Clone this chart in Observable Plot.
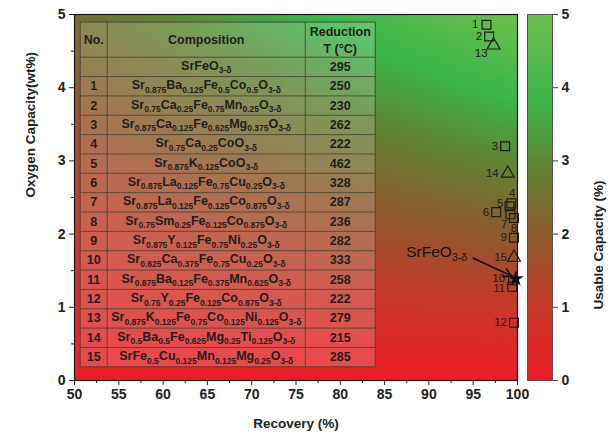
<!DOCTYPE html>
<html><head><meta charset="utf-8">
<script src="https://cdn.jsdelivr.net/npm/d3@7"></script>
<script src="https://cdn.jsdelivr.net/npm/@observablehq/plot@0.6"></script>
<style>
body{margin:0;background:#fff;font-family:"Liberation Sans",Arial,sans-serif;}
#wrap{position:relative;width:615px;height:438px;overflow:hidden;}
#main{position:absolute;left:0;top:0;}
#bar{position:absolute;left:520px;top:0;}
</style></head><body><div id="wrap"><div id="main"></div><div id="bar"></div></div>
<script>
// ---------- data ----------
const pointLabels = ["SrFeO3-δ","1","2","3","4","5","6","7","8","9","10","11","12","13","14","15"];
const recovery =       [99.8, 96.5, 96.8, 98.6, 99.3, 99.1, 97.6, 99.2, 99.6, 99.6, 99.5, 99.4, 99.6, 97.3, 98.9, 99.6];
const oxygenCapacity = [1.39, 4.86, 4.70, 3.20, 2.42, 2.38, 2.30, 2.27, 2.22, 1.95, 1.37, 1.28, 0.79, 4.58, 2.83, 1.68];
const markerKind = ["ref","square","square","square","square","square","square","square","square","square","square","square","square","triangle","triangle","triangle"];

const tableNo = ["","1","2","3","4","5","6","7","8","9","10","11","12","13","14","15"];
const tableComposition = [
  "SrFeO_{3-δ}",
  "Sr_{0.875}Ba_{0.125}Fe_{0.5}Co_{0.5}O_{3-δ}",
  "Sr_{0.75}Ca_{0.25}Fe_{0.75}Mn_{0.25}O_{3-δ}",
  "Sr_{0.875}Ca_{0.125}Fe_{0.625}Mg_{0.375}O_{3-δ}",
  "Sr_{0.75}Ca_{0.25}CoO_{3-δ}",
  "Sr_{0.875}K_{0.125}CoO_{3-δ}",
  "Sr_{0.875}La_{0.125}Fe_{0.75}Cu_{0.25}O_{3-δ}",
  "Sr_{0.875}La_{0.125}Fe_{0.125}Co_{0.875}O_{3-δ}",
  "Sr_{0.75}Sm_{0.25}Fe_{0.125}Co_{0.875}O_{3-δ}",
  "Sr_{0.875}Y_{0.125}Fe_{0.75}Ni_{0.25}O_{3-δ}",
  "Sr_{0.625}Ca_{0.375}Fe_{0.75}Cu_{0.25}O_{3-δ}",
  "Sr_{0.875}Ba_{0.125}Fe_{0.375}Mn_{0.625}O_{3-δ}",
  "Sr_{0.75}Y_{0.25}Fe_{0.125}Co_{0.875}O_{3-δ}",
  "Sr_{0.875}K_{0.125}Fe_{0.75}Co_{0.125}Ni_{0.125}O_{3-δ}",
  "Sr_{0.5}Ba_{0.5}Fe_{0.625}Mg_{0.25}Ti_{0.125}O_{3-δ}",
  "SrFe_{0.5}Cu_{0.125}Mn_{0.125}Mg_{0.25}O_{3-δ}"
];
const tableReductionT = [295,250,230,262,222,462,328,287,236,282,333,258,222,279,215,285];
const tableHeaders = ["No.","Composition","Reduction","T (°C)"];

const xTicks = [50,55,60,65,70,75,80,85,90,95,100];
const xMinorTicks = [52.5,57.5,62.5,67.5,72.5,77.5,82.5,87.5,92.5,97.5];
const yTicks = [0,1,2,3,4,5];
const yMinorTicks = [0.5,1.5,2.5,3.5,4.5];
const capacityTicks = [0,1,2,3,4,5];

// ---------- style / layout ----------
const FONT = "Liberation Sans, Arial, sans-serif";
const colorOpts = {type:"linear", domain:[0,1,2,3,3.8,5],
  range:["#ee1c25","#c8392b","#8c5b2c","#5d8736","#3bb54a","#6dc04b"], interpolate:"rgb"};
const labelPlace = { // dx, dy, anchor
  default:[-7,0,"end"], "1":[-8,0,"end"], "13":[-6,8,"end"], "14":[-9,0,"end"],
  "4":[1,-10,"middle"], "5":[-6,-3,"end"], "7":[-3,10,"end"], "8":[0,10,"middle"],
  "10":[-8,-2,"end"], "11":[-7,2,"end"]
};
// table frame in data units (recovery, wt%)
const tbl = {x:[50.7,53.75,76.1,84.0], yTop:4.89, yHead:4.41, yBottom:0.18};
const annot = {textX:87.5, textY:1.68, ax1:95.0, ay1:1.67, ax2:99.3, ay2:1.43};

const pts = pointLabels.map((l,i)=>({label:l, r:recovery[i], c:oxygenCapacity[i], kind:markerKind[i]}));
const numbered = pts.filter(d=>d.kind!=="ref");
const groups = d3.groups(numbered, d=> labelPlace[d.label] ? d.label : "default");

const labelMarks = groups.map(([k,arr])=>{
  const [dx,dy,anchor] = labelPlace[k];
  return Plot.text(arr,{x:"r",y:"c",text:"label",dx,dy,textAnchor:anchor,fontSize:11.5,fill:"#1a1a1a"});
});

const main = Plot.plot({
  width:525, height:438, marginLeft:74, marginRight:8, marginTop:14, marginBottom:58,
  style:{fontFamily:FONT, overflow:"visible", background:"transparent"},
  x:{domain:[50,100]},
  y:{domain:[0,5]},
  color:colorOpts,
  marks:[
    Plot.raster({fill:(x,y)=>x*y/100, x1:50, x2:100, y1:0, y2:5, pixelSize:1}),
    Plot.axisX({ticks:xTicks, tickFormat:"d", tickSize:5, tickPadding:4, fontSize:14, fontWeight:"bold", label:null, stroke:"#222", fill:"#222"}),
    Plot.axisX({ticks:xMinorTicks, tickSize:3, tickFormat:()=>"", label:null, stroke:"#222"}),
    Plot.axisY({ticks:yTicks, tickFormat:"d", tickSize:5, tickPadding:4, fontSize:14, fontWeight:"bold", label:null, stroke:"#222", fill:"#222"}),
    Plot.axisY({ticks:yMinorTicks, tickSize:3, tickFormat:()=>"", label:null, stroke:"#222"}),
    Plot.frame({stroke:"#1a1a1a", strokeWidth:1.2}),
    Plot.text(["Oxygen Capacity(wt%)"],{frameAnchor:"left", rotate:-90, dx:-44, fontSize:13.5, fontWeight:"bold", fill:"#222"}),
    Plot.text(["Recovery (%)"],{frameAnchor:"bottom", dy:47, fontSize:13.5, fontWeight:"bold", fill:"#222"}),
    Plot.dot(pts.filter(d=>d.kind==="square"),{x:"r",y:"c",symbol:"square",r:5,stroke:"#1a1a1a",strokeWidth:1.2,fill:"none"}),
    Plot.dot(pts.filter(d=>d.kind==="triangle"),{x:"r",y:"c",symbol:"triangle",r:4.8,stroke:"#1a1a1a",strokeWidth:1.2,fill:"none"}),
    Plot.dot(pts.filter(d=>d.kind==="ref"),{x:"r",y:"c",symbol:"star",r:3.6,fill:"#111",stroke:"#111"}),
    ...labelMarks,
    Plot.arrow([annot],{x1:"ax1",y1:"ay1",x2:"ax2",y2:"ay2",stroke:"#111",strokeWidth:1.6,headLength:8})
  ]
});
document.getElementById("main").appendChild(main);

// ---------- table inset drawn with the plot's scales ----------
const sx = main.scale("x").apply, sy = main.scale("y").apply;
const svg = d3.select(main);
const g = svg.append("g").attr("font-family",FONT).attr("fill","#1e1e1e");
const X = tbl.x.map(sx);
const yT = sy(tbl.yTop), yH = sy(tbl.yHead), yB = sy(tbl.yBottom);
const nRows = tableNo.length;
const rowH = (yB - yH)/nRows;
g.append("rect").attr("x",X[0]).attr("y",yT).attr("width",X[3]-X[0]).attr("height",yB-yT)
  .attr("fill","#fff").attr("fill-opacity",0.18).attr("stroke","#4a4636").attr("stroke-width",1);
const lines = g.append("g").attr("stroke","#4a4636").attr("stroke-width",0.9);
[X[1],X[2]].forEach(x=>lines.append("line").attr("x1",x).attr("x2",x).attr("y1",yT).attr("y2",yB));
for(let i=0;i<nRows;i++){
  const y = yH + i*rowH;
  lines.append("line").attr("x1",X[0]).attr("x2",X[3]).attr("y1",y).attr("y2",y);
}
function rich(sel,str,base,sub,sdy){
  const parts = str.split(/(_\{[^}]*\})/).filter(s=>s);
  let inSub=false;
  parts.forEach(p=>{
    if(p.startsWith("_{")){ sel.append("tspan").attr("font-size",sub).attr("dy",inSub?0:sdy).text(p.slice(2,-1)); inSub=true; }
    else { sel.append("tspan").attr("font-size",base).attr("dy",inSub?-sdy:0).text(p); inSub=false; }
  });
}
const hc = (yT+yH)/2;
g.append("text").attr("x",(X[0]+X[1])/2).attr("y",hc+4.5).attr("text-anchor","middle").attr("font-weight","bold").attr("font-size",12.5).text(tableHeaders[0]);
g.append("text").attr("x",(X[1]+X[2])/2).attr("y",hc+4.5).attr("text-anchor","middle").attr("font-weight","bold").attr("font-size",12.5).text(tableHeaders[1]);
g.append("text").attr("x",(X[2]+X[3])/2).attr("y",hc-4).attr("text-anchor","middle").attr("font-weight","bold").attr("font-size",12.5).text(tableHeaders[2]);
g.append("text").attr("x",(X[2]+X[3])/2).attr("y",hc+13).attr("text-anchor","middle").attr("font-weight","bold").attr("font-size",12.5).text(tableHeaders[3]);
for(let i=0;i<nRows;i++){
  const cy = yH + (i+0.5)*rowH;
  g.append("text").attr("x",(X[0]+X[1])/2).attr("y",cy+4).attr("text-anchor","middle").attr("font-weight","bold").attr("font-size",12.5).text(tableNo[i]);
  rich(g.append("text").attr("x",(X[1]+X[2])/2).attr("y",cy+3).attr("text-anchor","middle").attr("font-weight","bold"), tableComposition[i],12.5,8.5,3.5);
  g.append("text").attr("x",(X[2]+X[3])/2).attr("y",cy+4).attr("text-anchor","middle").attr("font-weight","bold").attr("font-size",12.5).text(tableReductionT[i]);
}
// annotation label
rich(svg.append("text").attr("font-family",FONT).attr("fill","#111").attr("text-anchor","start")
  .attr("x",sx(annot.textX)).attr("y",sy(annot.textY)), "SrFeO_{3-δ}",15.5,10.5,4);

// ---------- colour bar ----------
const bar = Plot.plot({
  width:95, height:438, marginLeft:7, marginRight:63, marginTop:14, marginBottom:58,
  style:{fontFamily:FONT, overflow:"visible", background:"transparent"},
  x:{domain:[0,1], axis:null},
  y:{domain:[0,5], axis:null},
  color:colorOpts,
  marks:[
    Plot.raster({fill:(x,y)=>y, x1:0, x2:1, y1:0, y2:5, pixelSize:1}),
    Plot.frame({stroke:"#555", strokeWidth:1}),
    Plot.axisY({anchor:"right", ticks:capacityTicks, tickFormat:"d", tickSize:5, tickPadding:4, fontSize:14, fontWeight:"bold", label:null, stroke:"#444", fill:"#222"}),
    Plot.text(["Usable Capacity (%)"],{frameAnchor:"right", rotate:-90, dx:46, dy:-17, fontSize:13.5, fontWeight:"bold", fill:"#222"})
  ]
});
document.getElementById("bar").appendChild(bar);
</script></body></html>
